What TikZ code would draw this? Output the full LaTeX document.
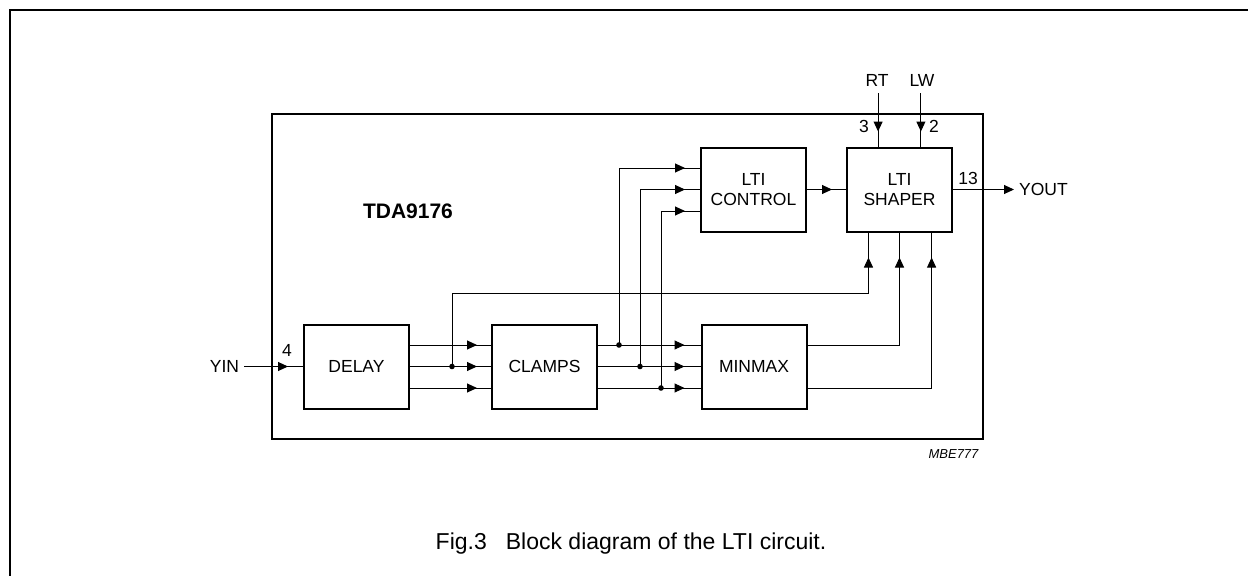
\documentclass[tikz,border=0pt]{standalone}
\usepackage{fontspec}
\setmainfont{Liberation Sans}
\usetikzlibrary{arrows.meta,calc,decorations.markings}
\tikzset{
  blk/.style={draw, line width=2pt, minimum width=105pt, minimum height=84pt, align=center, inner sep=0pt, font=\fontsize{17.5}{20}\selectfont},
  conn/.style={line width=1pt},
  tipend/.style={-{Triangle[length=10pt,width=9pt]}},
  midarrow/.style={postaction={decorate}, decoration={markings, mark=at position #1 with {\arrow{Triangle[length=10pt,width=9pt]}}}},
  lbl/.style={font=\fontsize{17.5}{20}\selectfont, inner sep=0pt},
  dotr/.style={radius=2.8pt},
}
\begin{document}
\begin{tikzpicture}[x=1pt,y=-1pt]
\useasboundingbox (0,0) rectangle (1248,576);
\draw[line width=1.5pt] (1248,10) -- (10,10) -- (10,576);
\node[draw, line width=2pt, minimum width=711pt, minimum height=325pt, inner sep=0pt] (ic) at (627.5,276.5) {};
\node[lbl, font=\fontsize{21}{24}\selectfont\bfseries] (tda) at (408,211) {TDA9176};
% blocks
\node[blk] (delay) at (356.5,366.5) {DELAY};
\node[blk] (clamps) at (544.5,366.5) {CLAMPS};
\node[blk] (minmax) at (754,366.5) {MINMAX};
\node[blk] (ctrl) at (753.5,189.5) {LTI\\CONTROL};
\node[blk] (shaper) at (899.5,189.5) {LTI\\SHAPER};
% anchors
\foreach \n/\f in {1/.25,2/.5,3/.75}{
  \coordinate (d\n) at ($(delay.north east)!\f!(delay.south east)$);
  \coordinate (ci\n) at ($(clamps.north west)!\f!(clamps.south west)$);
  \coordinate (co\n) at ($(clamps.north east)!\f!(clamps.south east)$);
  \coordinate (mi\n) at ($(minmax.north west)!\f!(minmax.south west)$);
  \coordinate (mo\n) at ($(minmax.north east)!\f!(minmax.south east)$);
  \coordinate (k\n) at ($(ctrl.north west)!\f!(ctrl.south west)$);
}
\coordinate (s1) at ($(shaper.south west)!.21!(shaper.south east)$);
\coordinate (s2) at ($(shaper.south west)!.5!(shaper.south east)$);
\coordinate (s3) at ($(shaper.south west)!.8!(shaper.south east)$);
\coordinate (t1) at ($(shaper.north west)!.30!(shaper.north east)$);
\coordinate (t2) at ($(shaper.north west)!.70!(shaper.north east)$);
% junctions
\coordinate (jd) at ($(d2)+(42,0)$);
\coordinate (j1) at ($(co1)+(21,0)$);
\coordinate (j2) at ($(co2)+(42,0)$);
\coordinate (j3) at ($(co3)+(63,0)$);
% YIN
\node[lbl, inner xsep=5pt] (yin) at (224.5,366.5) {YIN};
\draw[conn, midarrow=-15pt] (yin.east) -- (delay.west);
\node[lbl] (p4) at (287,350) {4};
% delay -> clamps
\foreach \n in {1,2,3}{\draw[conn, midarrow=-14pt] (d\n) -- (ci\n);}
% clamps -> minmax
\foreach \n in {1,2,3}{\draw[conn, midarrow=-16pt] (co\n) -- (mi\n);}
% clamps -> ctrl
\foreach \n in {1,2,3}{\draw[conn, midarrow=-15pt] (j\n) |- (k\n);}
% feedback from delay
\draw[conn, midarrow=-25pt] (jd) |- ($(s1)+(0,61)$) -- (s1);
% minmax -> shaper
\draw[conn, midarrow=-25pt] (mo1) -| (s2);
\draw[conn, midarrow=-25pt] (mo3) -| (s3);
% dots
\foreach \c in {jd,j1,j2,j3}{\fill (\c) circle[dotr];}
% ctrl -> shaper
\draw[conn, midarrow=-14pt] (ctrl) -- (shaper);
% RT / LW
\node[lbl] (rt) at (877,80) {RT};
\node[lbl] (lw) at (922,80) {LW};
\coordinate (rt0) at (t1 |- 0,93);
\coordinate (lw0) at (t2 |- 0,93);
\draw[conn, midarrow=-15pt] (rt0) -- (t1);
\draw[conn, midarrow=-15pt] (lw0) -- (t2);
\node[lbl] (p3) at (864,126) {3};
\node[lbl] (p2) at (934,126) {2};
% YOUT
\node[lbl, inner xsep=5pt] (yout) at (1043.5,189.5) {YOUT};
\draw[conn, tipend] (shaper.east) -- (yout.west);
\node[lbl] (p13) at (968,178) {13};
% MBE
\node[lbl, font=\fontsize{13}{15}\selectfont\itshape] (mbe) at (953.5,454) {MBE777};
% caption
\node[lbl, font=\fontsize{23}{26}\selectfont] (cap) at (631,544) {Fig.3\hspace{0.55em} Block diagram of the LTI circuit.};
\end{tikzpicture}
\end{document}
